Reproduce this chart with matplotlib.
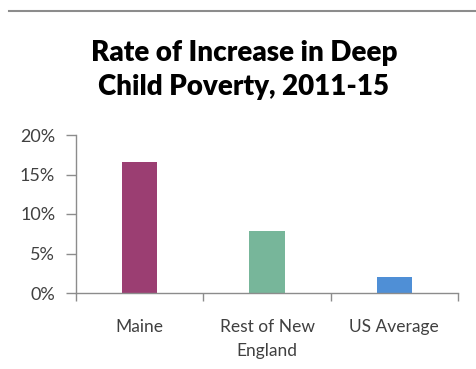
import matplotlib
matplotlib.use("Agg")
import matplotlib.pyplot as plt
from matplotlib.lines import Line2D
import numpy as np

categories = ["Maine", "Rest of New\nEngland", "US Average"]
values = [16.6, 7.9, 2.0]
colors = ["#9B3E72", "#77B69A", "#4F8FD6"]
yticks = [0, 5, 10, 15, 20]
ytick_labels = ["0%", "5%", "10%", "15%", "20%"]
title = "Rate of Increase in Deep\nChild Poverty, 2011-15"

W, H = 476, 369
fig = plt.figure(figsize=(W / 100, H / 100), dpi=100)
fig.patch.set_facecolor("white")

# top rule
fig.add_artist(Line2D([9 / W, 1.0], [1 - 11 / H, 1 - 11 / H], color="#8c8c8c", lw=1.5))

ax = fig.add_axes([76 / W, 1 - 293 / H, 382 / W, 158 / H])
x = np.arange(len(categories))
ax.bar(x, values, width=0.275, color=colors, zorder=2)
ax.set_xlim(-0.5, len(categories) - 0.5)
ax.set_ylim(0, 20)
ax.set_yticks(yticks)
ax.set_yticklabels(ytick_labels, fontfamily="Lato", fontsize=13, color="#404040")
ax.set_xticks(x)
ax.set_xticklabels(categories, fontfamily="Lato", fontsize=12.5, color="#404040", linespacing=1.6)
ax.tick_params(axis="x", length=0, pad=19)
ax.set_xticks(np.arange(-0.5, len(categories)), minor=True)
ax.tick_params(axis="x", which="minor", length=6, color="#8c8c8c", width=1)
ax.tick_params(axis="y", length=7, color="#8c8c8c", width=1, pad=8)
for s in ["top", "right"]:
    ax.spines[s].set_visible(False)
for s in ["left", "bottom"]:
    ax.spines[s].set_color("#8c8c8c")
    ax.spines[s].set_linewidth(1)

fig.text(244 / W, 1 - 70 / H, title, ha="center", va="center", fontfamily="Lato",
         fontweight="heavy", fontsize=20, color="black", linespacing=1.4)

fig.savefig("out.png", dpi=100)
